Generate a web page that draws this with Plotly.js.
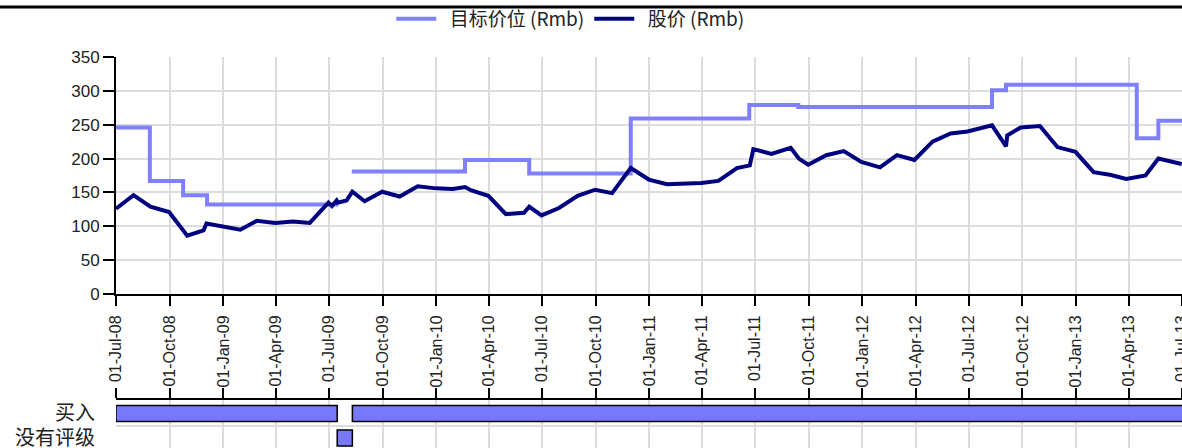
<!DOCTYPE html>
<html>
<head>
<meta charset="utf-8">
<script src="https://cdn.plot.ly/plotly-3.0.1.min.js"></script>
<style>html,body{margin:0;padding:0;background:#fff;}#chart{width:1182px;height:448px;}</style>
</head>
<body>
<div id="chart"></div>
<script>
// ---- data ----
const priceDates = ['2008-07-01','2008-07-31','2008-08-29','2008-09-30','2008-10-31','2008-11-28','2008-12-03',
  '2009-01-30','2009-02-27','2009-03-31','2009-04-30','2009-05-29','2009-06-30','2009-07-06','2009-07-14','2009-07-16',
  '2009-07-31','2009-08-10','2009-08-31','2009-09-30','2009-10-30','2009-11-30','2009-12-31',
  '2010-01-29','2010-02-19','2010-03-02','2010-03-31','2010-04-30','2010-05-31','2010-06-09','2010-06-30',
  '2010-07-30','2010-08-31','2010-09-30','2010-10-29','2010-11-30','2010-12-31',
  '2011-01-31','2011-03-31','2011-04-29','2011-05-31','2011-06-22','2011-06-28','2011-07-29','2011-08-31',
  '2011-09-14','2011-09-30','2011-10-31','2011-11-30','2011-12-30',
  '2012-01-31','2012-02-29','2012-03-30','2012-04-30','2012-05-31','2012-06-29','2012-08-10','2012-09-03',
  '2012-09-05','2012-09-28','2012-10-31','2012-11-30','2012-12-31',
  '2013-01-31','2013-02-28','2013-03-28','2013-04-30','2013-05-22','2013-07-01'];
const priceValues = [126,146,129,121,86,94,104,
  95,108,105,107,105,135,130,138,135,
  138,151,137,151,144,159,156,
  155,158,153,145,118,120,129,116,
  127,145,154,149,186,169,
  162,164,167,186,190,214,207,216,
  200,191,205,211,195,
  187,205,198,225,237,240,249,218,
  234,246,248,217,210,
  180,176,170,175,200,192];

const targetDates = ['2008-07-01','2008-08-28','2008-10-24','2008-12-04','2009-07-17','2009-07-18',
  '2009-08-09','2010-02-19','2010-06-09','2010-11-30','2011-06-21','2011-09-13','2012-08-10','2012-09-03',
  '2013-04-15','2013-05-22','2013-07-02'];
const targetValues = [246,167,146,132,132,null,
  181,198,178,259,279,276,301,309,
  230,256,256];

const ratingCategories = ['买入','没有评级'];
const ratingRow   = [0, 1, 0];
const ratingStart = ['2008-07-01','2009-07-15','2009-08-10'];
const ratingEnd   = ['2009-07-15','2009-08-10','2013-08-01'];

const tickDates = ['2008-07-01','2008-10-01','2009-01-01','2009-04-01','2009-07-01','2009-10-01','2010-01-01',
  '2010-04-01','2010-07-01','2010-10-01','2011-01-01','2011-04-01','2011-07-01','2011-10-01','2012-01-01',
  '2012-04-01','2012-07-01','2012-10-01','2013-01-01','2013-04-01','2013-07-01'];
const tickLabels = ['01-Jul-08','01-Oct-08','01-Jan-09','01-Apr-09','01-Jul-09','01-Oct-09','01-Jan-10',
  '01-Apr-10','01-Jul-10','01-Oct-10','01-Jan-11','01-Apr-11','01-Jul-11','01-Oct-11','01-Jan-12',
  '01-Apr-12','01-Jul-12','01-Oct-12','01-Jan-13','01-Apr-13','01-Jul-13'];

const seriesNames = ['目标价位 (Rmb)','股价 (Rmb)'];

// ---- styling ----
const CJK = '"Noto Sans CJK SC", sans-serif';
const REG = '"Liberation Sans", Arial, "Noto Sans CJK SC", sans-serif';
const GRID = '#dcdcdc';
const H = 448;
const NB = '\u00a0\u00a0';

const traces = [
  {type:'scatter', mode:'lines', name:NB + seriesNames[0], x:targetDates, y:targetValues,
   line:{color:'#8080ff', width:4, shape:'hv'}, connectgaps:false, xaxis:'x', yaxis:'y'},
  {type:'scatter', mode:'lines', name:NB + seriesNames[1], x:priceDates, y:priceValues,
   line:{color:'#000080', width:4}, xaxis:'x', yaxis:'y'},
  {type:'bar', orientation:'h', showlegend:false, hoverinfo:'skip',
   y:ratingRow, base:ratingStart,
   x:ratingStart.map((s,i)=>Date.parse(ratingEnd[i]) - Date.parse(s)),
   width:0.66, marker:{color:'#7878ff', line:{color:'#000', width:1.5}},
   xaxis:'x2', yaxis:'y2'}
];

const xdom = [116/1182, 1];
const xrange = ['2008-07-01','2013-07-01 12:00'];
const layout = {
  width:1182, height:448,
  margin:{l:0, r:0, t:0, b:0},
  paper_bgcolor:'#fff', plot_bgcolor:'#fff',
  showlegend:true,
  legend:{orientation:'h', x:0.331, y:1, xanchor:'left', yanchor:'top',
          font:{family:CJK, size:19, color:'#222'}, itemwidth:40, bgcolor:'rgba(0,0,0,0)'},
  xaxis:{type:'date', domain:xdom, anchor:'y', range:xrange,
         tickmode:'array', tickvals:tickDates, ticktext:tickLabels, tickangle:-90,
         ticks:'outside', ticklen:10, tickwidth:2, tickcolor:'#000', ticklabelstandoff:3,
         ticklabeloverflow:'allow',
         showline:true, linewidth:2, linecolor:'#000',
         showgrid:true, gridcolor:GRID, gridwidth:2, zeroline:false,
         tickfont:{family:REG, size:16, color:'#222'}},
  yaxis:{domain:[1-294/H, 1-57/H], anchor:'x', range:[0,350], dtick:50, tick0:0,
         ticks:'outside', ticklen:11, tickwidth:2, tickcolor:'#000',
         showline:true, linewidth:2, linecolor:'#000',
         showgrid:true, gridcolor:GRID, gridwidth:2, zeroline:false,
         tickfont:{family:REG, size:17, color:'#222'}},
  xaxis2:{type:'date', domain:xdom, anchor:'y2', matches:'x', side:'top',
          tickmode:'array', tickvals:tickDates, showticklabels:false,
          ticks:'outside', ticklen:10, tickwidth:2, tickcolor:'#000',
          showline:true, linewidth:2, linecolor:'#000',
          showgrid:true, gridcolor:GRID, gridwidth:2, zeroline:false},
  yaxis2:{domain:[0, 1-400/H], anchor:'x2', range:[1.41,-0.55], autorange:false,
          tickmode:'array', tickvals:[0,1], ticktext:ratingCategories,
          ticks:'outside', ticklen:16, tickcolor:'rgba(0,0,0,0)', ticklabeloverflow:'allow',
          showgrid:false, zeroline:false, showline:false,
          minor:{tickmode:'array', tickvals:[0.5], showgrid:true, gridcolor:GRID, gridwidth:2, ticks:''},
          tickfont:{family:CJK, size:20, color:'#222'}},
  barmode:'overlay',
  shapes:[{type:'line', xref:'paper', yref:'paper', x0:0, x1:1, y0:1-7/H, y1:1-7/H,
           line:{color:'#000', width:3}}]
};

Plotly.newPlot('chart', traces, layout, {displayModeBar:false, staticPlot:true});
</script>
</body>
</html>
